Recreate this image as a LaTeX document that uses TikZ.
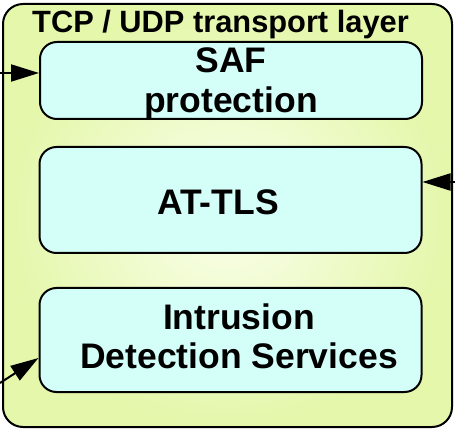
\documentclass[tikz,border=0pt]{standalone}
\usepackage{fontspec}
\setmainfont{Liberation Sans}
\usetikzlibrary{positioning,arrows.meta}
\definecolor{layergreen}{RGB}{228,247,170}
\definecolor{layerlight}{RGB}{250,255,236}
\definecolor{boxcyan}{RGB}{212,255,249}
\tikzset{
    layer/.style={draw, line width=2pt, rounded corners=20pt, inner color=layerlight, outer color=layergreen}, % outer transport layer
    svcbox/.style={draw, line width=2pt, rounded corners=17pt, fill=boxcyan, minimum width=382pt},
    svctext/.style={align=center, font=\fontsize{35.5}{40}\selectfont\bfseries},
    flow/.style={line width=2pt, -{Triangle[length=28pt,width=17pt]}},
}

\begin{document}
\begin{tikzpicture}[x=1pt,y=-1pt]
  \useasboundingbox (0,0) rectangle (455,430);
  % transport layer
  \node[layer, minimum width=449pt, minimum height=423pt] (tcp) at (227.5,215.5) {};
  \node[font=\fontsize{30.8}{32}\selectfont\bfseries, anchor=base] (title) at (220.5,33) {TCP / UDP transport layer};

  % services
  \node[svcbox, minimum height=77pt] (saf) at (231,80.5) {};
  \node[svcbox, minimum height=106pt] (attls) at (230.5,200) {};
  \node[svcbox, minimum height=104pt] (ids) at (230.5,340) {};
  \node[svctext] (saf text) at (231,84) {SAF\\protection};
  \node[svctext] (attls text) at (218,202.3) {AT-TLS};
  \node[svctext, font=\fontsize{35.5}{39}\selectfont\bfseries] (ids text) at (239,336.8) {Intrusion\\Detection Services};

  % incoming traffic
  \coordinate (inL) at (0,73);
  \coordinate (inR) at (455,182);
  \coordinate (inB) at (0,383);
  \draw[flow] (inL) -- (inL -| saf.west);
  \draw[flow] (inR) -- (inR -| attls.east);
  \draw[flow] (inB) -- ([yshift=-18pt]ids.west);
\end{tikzpicture}
\end{document}
